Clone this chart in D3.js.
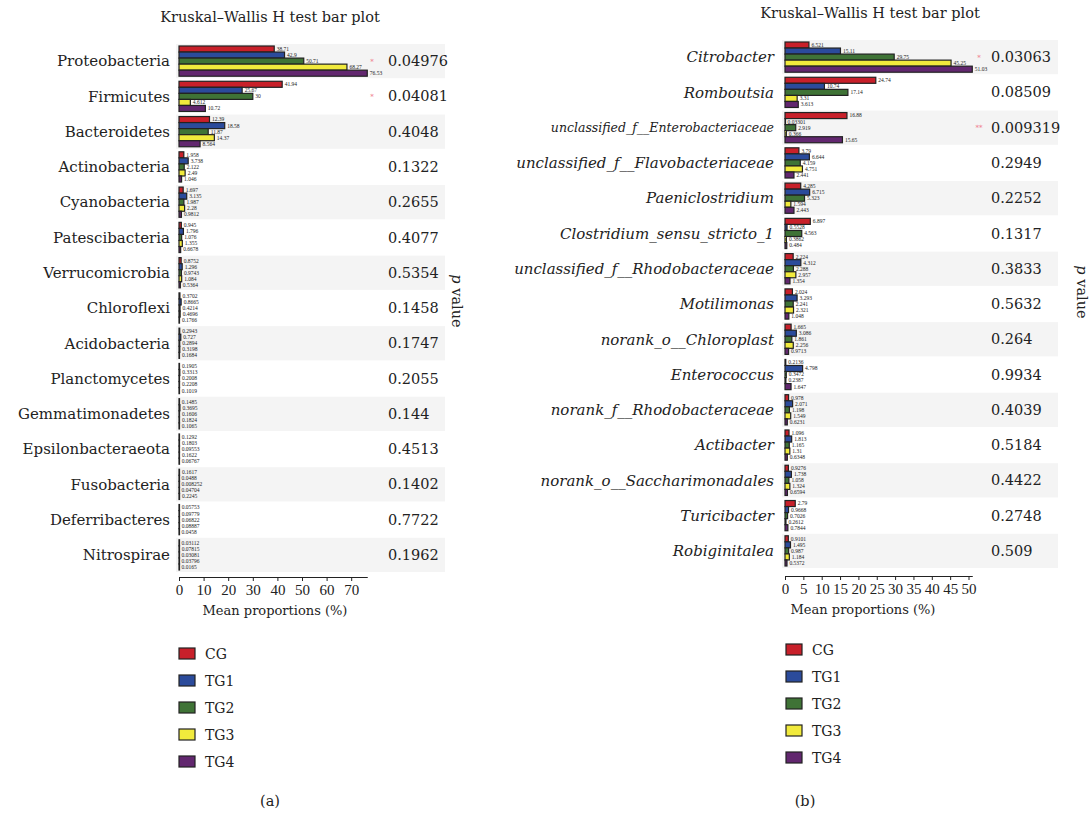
<!DOCTYPE html>
<html>
<head>
<meta charset="utf-8">
<script src="https://cdn.jsdelivr.net/npm/d3@7"></script>
<style>
  body { margin: 0; background: #fff; }
  svg text { font-family: "DejaVu Serif", "Liberation Serif", serif; fill: #222; }
</style>
</head>
<body>
<div id="chart"></div>
<script>
// groups and colours
var groups = ["CG", "TG1", "TG2", "TG3", "TG4"];
var groupColors = ["#c8202a", "#2b4b9b", "#3f7336", "#f1ea3c", "#62276f"];

// panel (a) - phylum level
var phylaA = ["Proteobacteria", "Firmicutes", "Bacteroidetes", "Actinobacteria", "Cyanobacteria",
    "Patescibacteria", "Verrucomicrobia", "Chloroflexi", "Acidobacteria", "Planctomycetes",
    "Gemmatimonadetes", "Epsilonbacteraeota", "Fusobacteria", "Deferribacteres", "Nitrospirae"];
var cgA  = [38.71, 41.94, 12.39, 1.958, 1.697, 0.945, 0.8752, 0.3702, 0.2943, 0.1905, 0.1485, 0.1292, 0.1617, 0.05753, 0.03112];
var tg1A = [42.9, 25.67, 18.58, 3.738, 3.135, 1.796, 1.296, 0.8665, 0.727, 0.3313, 0.3695, 0.1803, 0.0488, 0.09779, 0.07815];
var tg2A = [50.71, 30, 11.87, 2.122, 1.987, 1.076, 0.9743, 0.4214, 0.2894, 0.2008, 0.1606, 0.09553, 0.008252, 0.06822, 0.03081];
var tg3A = [68.27, 4.612, 14.37, 2.49, 2.28, 1.355, 1.084, 0.4696, 0.3198, 0.2208, 0.1824, 0.1622, 0.04704, 0.08887, 0.03796];
var tg4A = [76.53, 10.72, 8.564, 1.046, 0.9812, 0.6678, 0.5364, 0.1766, 0.1684, 0.1019, 0.1065, 0.06767, 0.2245, 0.0458, 0.0165];
var pA = ["0.04976", "0.04081", "0.4048", "0.1322", "0.2655", "0.4077", "0.5354", "0.1458", "0.1747", "0.2055", "0.144", "0.4513", "0.1402", "0.7722", "0.1962"];
var starsA = ["*", "*", "", "", "", "", "", "", "", "", "", "", "", "", ""];
var ticksA = [0, 10, 20, 30, 40, 50, 60, 70];

// panel (b) - genus level
var generaB = ["Citrobacter", "Romboutsia", "unclassified_f__Enterobacteriaceae", "unclassified_f__Flavobacteriaceae",
    "Paeniclostridium", "Clostridium_sensu_stricto_1", "unclassified_f__Rhodobacteraceae", "Motilimonas",
    "norank_o__Chloroplast", "Enterococcus", "norank_f__Rhodobacteraceae", "Actibacter",
    "norank_o__Saccharimonadales", "Turicibacter", "Robiginitalea"];
var cgB  = [6.521, 24.74, 16.88, 3.79, 4.285, 6.897, 2.224, 2.024, 1.665, 0.2136, 0.978, 1.096, 0.9276, 2.79, 0.9101];
var tg1B = [15.11, 10.74, 0.03301, 6.644, 6.715, 0.5528, 4.312, 3.293, 3.086, 4.798, 2.071, 1.813, 1.738, 0.9668, 1.495];
var tg2B = [29.75, 17.14, 2.919, 4.159, 5.323, 4.563, 2.288, 2.241, 1.861, 0.3472, 1.198, 1.165, 1.058, 0.7026, 0.987];
var tg3B = [45.25, 3.31, 0.366, 4.751, 1.594, 0.3862, 2.957, 2.321, 2.256, 0.2387, 1.549, 1.31, 1.324, 0.2612, 1.184];
var tg4B = [51.03, 3.613, 15.65, 2.441, 2.443, 0.484, 1.354, 1.048, 0.9713, 1.647, 0.6231, 0.6348, 0.6594, 0.7844, 0.5372];
var pB = ["0.03063", "0.08509", "0.009319", "0.2949", "0.2252", "0.1317", "0.3833", "0.5632", "0.264", "0.9934", "0.4039", "0.5184", "0.4422", "0.2748", "0.509"];
var starsB = ["*", "", "**", "", "", "", "", "", "", "", "", "", "", "", ""];
var ticksB = [0, 5, 10, 15, 20, 25, 30, 35, 40, 45, 50];

var svg = d3.select("#chart").append("svg")
    .attr("width", 1091)
    .attr("height", 817);

function drawPanel(opt) {
    var g = svg.append("g");
    var n = opt.names.length;

    var series = [opt.cg, opt.tg1, opt.tg2, opt.tg3, opt.tg4];

    var x = d3.scaleLinear().domain([0, opt.xMax]).range([opt.x0, opt.x0 + opt.xMax * opt.pxPerUnit]);
    var y = d3.scaleBand().domain(d3.range(n)).range([opt.yTop, opt.yBottom]).paddingInner(0.03).paddingOuter(0.0);
    var yb = d3.scaleBand().domain(d3.range(5)).range([0, y.bandwidth() - 4]);

    // title
    g.append("text")
        .attr("x", opt.titleX).attr("y", opt.titleY)
        .attr("text-anchor", "middle")
        .style("font-size", "14.5px")
        .text("Kruskal\u2013Wallis H test bar plot");

    // alternating background bands
    g.selectAll(".band")
        .data(d3.range(n).filter(function(i) { return i % 2 === 0; }))
        .enter().append("rect")
        .attr("x", opt.x0 - 3)
        .attr("y", function(i) { return y(i); })
        .attr("width", opt.bandRight - opt.x0 + 3)
        .attr("height", y.bandwidth())
        .attr("fill", "#f4f4f4");

    // row labels
    g.selectAll(".rowlab")
        .data(opt.names)
        .enter().append("text")
        .attr("x", opt.labelX)
        .attr("y", function(d, i) { return y(i) + y.bandwidth() / 2; })
        .attr("dy", "0.35em")
        .attr("text-anchor", "end")
        .style("font-size", function(d) { return (opt.smallLabel === d ? 12.5 : 15) + "px"; })
        .style("font-style", opt.italic ? "italic" : "normal")
        .text(function(d) { return d; });

    // bars
    var rows = g.selectAll(".row")
        .data(opt.names)
        .enter().append("g")
        .attr("transform", function(d, i) { return "translate(0," + (y(i) + 2) + ")"; });

    rows.each(function(d, i) {
        var row = d3.select(this);
        var vals = series.map(function(s) { return s[i]; });
        row.selectAll("rect")
            .data(vals)
            .enter().append("rect")
            .attr("x", x(0))
            .attr("y", function(v, k) { return yb(k); })
            .attr("width", function(v) { return Math.max(x(v) - x(0), 0.5); })
            .attr("height", yb.bandwidth())
            .attr("fill", function(v, k) { return groupColors[k]; })
            .attr("stroke", "#222")
            .attr("stroke-width", 1.2);
        row.selectAll("text")
            .data(vals)
            .enter().append("text")
            .attr("x", function(v) { return x(v) + 2.5; })
            .attr("y", function(v, k) { return yb(k) + yb.bandwidth() / 2; })
            .attr("dy", "0.35em")
            .style("font-family", "'Liberation Serif', serif")
            .style("font-size", "5.5px")
            .text(function(v) { return v; });
    });

    // stars
    g.selectAll(".star")
        .data(opt.stars)
        .enter().append("text")
        .attr("x", opt.starX)
        .attr("y", function(d, i) { return y(i) + y.bandwidth() / 2; })
        .attr("dy", "0.35em")
        .attr("text-anchor", "middle")
        .style("font-size", "7px")
        .style("fill", "#f08090")
        .text(function(d) { return d; });

    // p values
    g.selectAll(".pval")
        .data(opt.p)
        .enter().append("text")
        .attr("x", opt.pX)
        .attr("y", function(d, i) { return y(i) + y.bandwidth() / 2; })
        .attr("dy", "0.35em")
        .style("font-size", "14.5px")
        .text(function(d) { return d; });

    // p value axis title
    var pt = g.append("text")
        .attr("transform", "translate(" + opt.pTitleX + "," + opt.pTitleY + ") rotate(90)")
        .attr("text-anchor", "middle")
        .style("font-size", "14.5px");
    pt.append("tspan").style("font-style", "italic").text("p");
    pt.append("tspan").text(" value");

    // x axis
    var axis = g.append("g")
        .attr("transform", "translate(0," + opt.axisY + ")")
        .call(d3.axisBottom(x).tickValues(opt.ticks).tickSize(4).tickSizeOuter(0).tickPadding(3));
    axis.select(".domain").attr("stroke", "#222");
    axis.selectAll(".tick line").attr("stroke", "#222");
    axis.selectAll(".tick text")
        .style("font-size", "15px")
        .style("font-family", "'Liberation Serif', serif")
        .attr("fill", "#222");

    g.append("text")
        .attr("x", opt.xLabelX).attr("y", opt.axisY + 38)
        .attr("text-anchor", "middle")
        .style("font-size", "13px")
        .text("Mean proportions (%)");

    // legend
    var leg = g.selectAll(".leg")
        .data(groups)
        .enter().append("g")
        .attr("transform", function(d, k) { return "translate(" + opt.legX + "," + (opt.legY + k * 27) + ")"; });
    leg.append("rect")
        .attr("width", 16).attr("height", 11)
        .attr("fill", function(d, k) { return groupColors[k]; })
        .attr("stroke", "#222")
        .attr("stroke-width", 1.2);
    leg.append("text")
        .attr("x", 26).attr("y", 6)
        .attr("dy", "0.35em")
        .style("font-size", "14px")
        .text(function(d) { return d; });

    // panel letter
    g.append("text")
        .attr("x", opt.letterX).attr("y", 806)
        .attr("text-anchor", "middle")
        .style("font-size", "14.5px")
        .text(opt.letter);
}

drawPanel({
    names: phylaA, cg: cgA, tg1: tg1A, tg2: tg2A, tg3: tg3A, tg4: tg4A,
    p: pA, stars: starsA, ticks: ticksA, italic: false, smallLabel: null,
    xMax: 76.53, x0: 179, pxPerUnit: 2.46,
    yTop: 44, yBottom: 572,
    labelX: 170, bandRight: 445, starX: 372, pX: 388,
    pTitleX: 452, pTitleY: 301,
    axisY: 577, titleX: 270, titleY: 22, xLabelX: 275,
    legX: 179, legY: 648, letterX: 270, letter: "(a)"
});

drawPanel({
    names: generaB, cg: cgB, tg1: tg1B, tg2: tg2B, tg3: tg3B, tg4: tg4B,
    p: pB, stars: starsB, ticks: ticksB, italic: true, smallLabel: "unclassified_f__Enterobacteriaceae",
    xMax: 51.03, x0: 785, pxPerUnit: 3.67,
    yTop: 40, yBottom: 568,
    labelX: 774, bandRight: 1058, starX: 979, pX: 991,
    pTitleX: 1077, pTitleY: 292,
    axisY: 576, titleX: 870, titleY: 18, xLabelX: 863,
    legX: 786, legY: 644, letterX: 805, letter: "(b)"
});
</script>
</body>
</html>
